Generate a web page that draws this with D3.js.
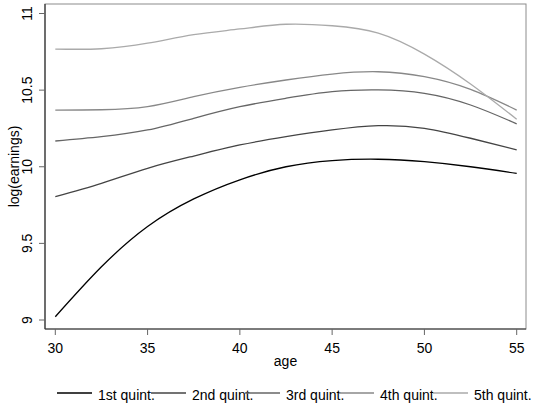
<!DOCTYPE html>
<html>
<head>
<meta charset="utf-8">
<script src="https://cdn.jsdelivr.net/npm/d3@7"></script>
<style>
  body { margin: 0; background: #fff; }
  text { font-family: "Liberation Sans", Arial, sans-serif; }
</style>
</head>
<body>
<svg id="chart" width="533" height="408"></svg>
<script>
const ages = [30, 32.5, 35, 37.5, 40, 42.5, 45, 47.5, 50, 52.5, 55];
const q1 = [9.021, 9.347, 9.610, 9.790, 9.915, 10.000, 10.040, 10.049, 10.033, 10.000, 9.957];
const q2 = [9.805, 9.892, 9.990, 10.070, 10.142, 10.196, 10.240, 10.268, 10.251, 10.186, 10.110];
const q3 = [10.168, 10.196, 10.240, 10.316, 10.392, 10.447, 10.490, 10.501, 10.479, 10.403, 10.280];
const q4 = [10.370, 10.372, 10.392, 10.457, 10.518, 10.566, 10.605, 10.620, 10.588, 10.505, 10.370];
const q5 = [10.768, 10.770, 10.806, 10.862, 10.899, 10.930, 10.920, 10.872, 10.735, 10.540, 10.310];
const seriesNames = ["1st quint.", "2nd quint.", "3rd quint.", "4th quint.", "5th quint."];
const xTicks = [30, 35, 40, 45, 50, 55];
const yTicks = [9, 9.5, 10, 10.5, 11];

const series = [q1, q2, q3, q4, q5];
const colors = ["#000000", "#444444", "#666666", "#888888", "#aaaaaa"];

const svg = d3.select("#chart");
const mLeft = 45, mRight = 526, mTop = 4, mBottom = 329;

const x = d3.scaleLinear().domain([30, 55]).range([55.3, 516.7]);
const y = d3.scaleLinear().domain([9, 11]).range([320, 13.5]);

// frame
svg.append("rect")
    .attr("x", mLeft).attr("y", mTop)
    .attr("width", mRight - mLeft).attr("height", mBottom - mTop)
    .attr("fill", "none").attr("stroke", "#8c8c8c").attr("stroke-width", 1);

// x axis
const gx = svg.append("g").attr("transform", `translate(0,${mBottom})`);
gx.append("line").attr("x1", mLeft).attr("x2", mRight)
    .attr("stroke", "#333").attr("stroke-width", 1.2);
gx.selectAll("g.tick").data(xTicks).join("g")
    .attr("transform", d => `translate(${x(d)},0)`)
    .call(g => g.append("line").attr("y2", 6).attr("stroke", "#666"))
    .call(g => g.append("text").attr("y", 24).attr("text-anchor", "middle")
        .attr("font-size", 14).attr("fill", "#000").text(d => d));
svg.append("text").attr("x", (mLeft + mRight) / 2).attr("y", 366)
    .attr("text-anchor", "middle").attr("font-size", 14).text("age");

// y axis
const gy = svg.append("g").attr("transform", `translate(${mLeft},0)`);
gy.append("line").attr("y1", mTop).attr("y2", mBottom)
    .attr("stroke", "#333").attr("stroke-width", 1.2);
gy.selectAll("g.tick").data(yTicks).join("g")
    .attr("transform", d => `translate(0,${y(d)})`)
    .call(g => g.append("line").attr("x2", -6).attr("stroke", "#666"))
    .call(g => g.append("text").attr("transform", "translate(-13,0) rotate(-90)")
        .attr("text-anchor", "middle").attr("font-size", 14).attr("fill", "#000")
        .text(d => d));
svg.append("text")
    .attr("transform", `translate(19,${(mTop + mBottom) / 2}) rotate(-90)`)
    .attr("text-anchor", "middle").attr("font-size", 14).text("log(earnings)");

// lines
const line = d3.line()
    .x((d, i) => x(ages[i]))
    .y(d => y(d))
    .curve(d3.curveNatural);

svg.append("g").selectAll("path").data(series).join("path")
    .attr("d", line)
    .attr("fill", "none")
    .attr("stroke", (d, i) => colors[i])
    .attr("stroke-width", 1.3);

// legend
const lg = svg.append("g").selectAll("g").data(seriesNames).join("g")
    .attr("transform", (d, i) => `translate(${57 + i * 94},393)`);
lg.append("line").attr("x1", 0).attr("x2", 35)
    .attr("stroke", (d, i) => colors[i]).attr("stroke-width", 1.3);
lg.append("text").attr("x", 41).attr("y", 7).attr("font-size", 14).text(d => d);
</script>
</body>
</html>
